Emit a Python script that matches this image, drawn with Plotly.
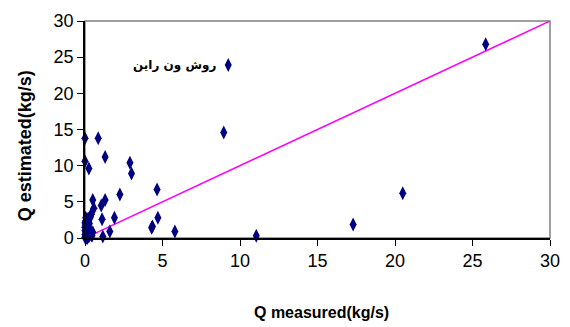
import plotly.graph_objects as go

# measured vs estimated (kg/s)
q_measured = [0.0, 0.85, 8.95, 1.3, 0.0, 0.25, 2.9, 3.0, 2.25, 4.65,
              0.5, 1.3, 1.05, 0.57, 1.1, 1.9, 4.7, 4.3, 1.6, 1.15,
              5.8, 11.05, 17.3, 20.5, 25.85, 4.35,
              0.0, 0.0, 0.0, 0.0, 0.05, 0.05, 0.1, 0.1, 0.1, 0.15,
              0.2, 0.2, 0.25, 0.3, 0.3, 0.4, 0.4, 0.5, 0.1, 0.0,
              0.02, 0.08, 0.12, 0.18, 0.22, 0.28, 0.35, 0.45, 0.15, 0.05]
q_estimated = [13.8, 13.8, 14.6, 11.2, 10.6, 9.6, 10.4, 8.9, 6.0, 6.7,
               5.25, 5.25, 4.5, 4.1, 2.6, 2.8, 2.8, 1.4, 0.9, 0.2,
               0.9, 0.3, 1.85, 6.2, 26.8, 1.6,
               0.1, 0.5, 1.0, 1.5, 2.0, 2.4, 0.3, 0.8, 1.3, 1.8,
               2.3, 2.7, 0.2, 0.6, 1.2, 3.3, 0.4, 0.8, 0.05, 2.1,
               1.7, 1.1, 0.6, 0.9, 1.5, 2.0, 2.9, 0.3, 0.0, 2.8]
line_x = [0, 30]
line_y = [0, 30]
x_ticks = [0, 5, 10, 15, 20, 25, 30]
y_ticks = [0, 5, 10, 15, 20, 25, 30]
series_name = "روش ون راین"
x_title = "Q measured(kg/s)"
y_title = "Q estimated(kg/s)"

fig = go.Figure()
fig.add_trace(go.Scatter(x=line_x, y=line_y, mode="lines",
                         line=dict(color="#FF00FF", width=1.5),
                         showlegend=False, hoverinfo="skip"))
fig.add_trace(go.Scatter(x=q_measured, y=q_estimated, mode="markers",
                         marker=dict(symbol="diamond-tall", size=10, color="#000080",
                                     line=dict(width=0)),
                         cliponaxis=False, name=" ", showlegend=True))

tickfont = dict(family="Liberation Sans, Arial", size=18, color="black")
fig.update_layout(
    width=570, height=327,
    margin=dict(l=85, r=20, t=21, b=89, autoexpand=False),
    paper_bgcolor="white", plot_bgcolor="white",
    showlegend=True,
    legend=dict(x=0.265, y=0.797, xanchor="left", yanchor="middle",
                bgcolor="rgba(0,0,0,0)", font=dict(size=6),
                itemwidth=30),
    xaxis=dict(range=[0, 30], tickvals=x_ticks, showgrid=False, zeroline=False,
               showline=True, linecolor="black", linewidth=1.5,
               ticks="outside", ticklen=6, tickcolor="black", tickwidth=1,
               tickfont=tickfont, automargin=False),
    yaxis=dict(range=[0, 30], tickvals=y_ticks, showgrid=False, zeroline=False,
               showline=True, linecolor="black", linewidth=1.5,
               ticks="outside", ticklen=6, tickcolor="black", tickwidth=1,
               tickfont=tickfont, automargin=False),
    shapes=[dict(type="rect", xref="paper", yref="paper", x0=0, y0=0, x1=1, y1=1,
                 line=dict(color="#808080", width=1.5), layer="below")],
    annotations=[
        dict(text="<b>" + series_name + "</b>", xref="paper", yref="paper",
             x=0.193, y=0.797, xanchor="center", yanchor="middle", showarrow=False,
             font=dict(family="DejaVu Sans", size=12, color="black")),
        dict(text="<b>" + x_title + "</b>", xref="paper", yref="paper",
             x=0.508, y=-0.345, xanchor="center", yanchor="middle", showarrow=False,
             font=dict(family="Liberation Sans, Arial", size=16, color="black")),
        dict(text="<b>" + y_title + "</b>", xref="paper", yref="paper", textangle=-90,
             x=-0.13, y=0.425, xanchor="center", yanchor="middle", showarrow=False,
             font=dict(family="Liberation Sans, Arial", size=18, color="black")),
    ],
)
fig.write_html("out.html")
